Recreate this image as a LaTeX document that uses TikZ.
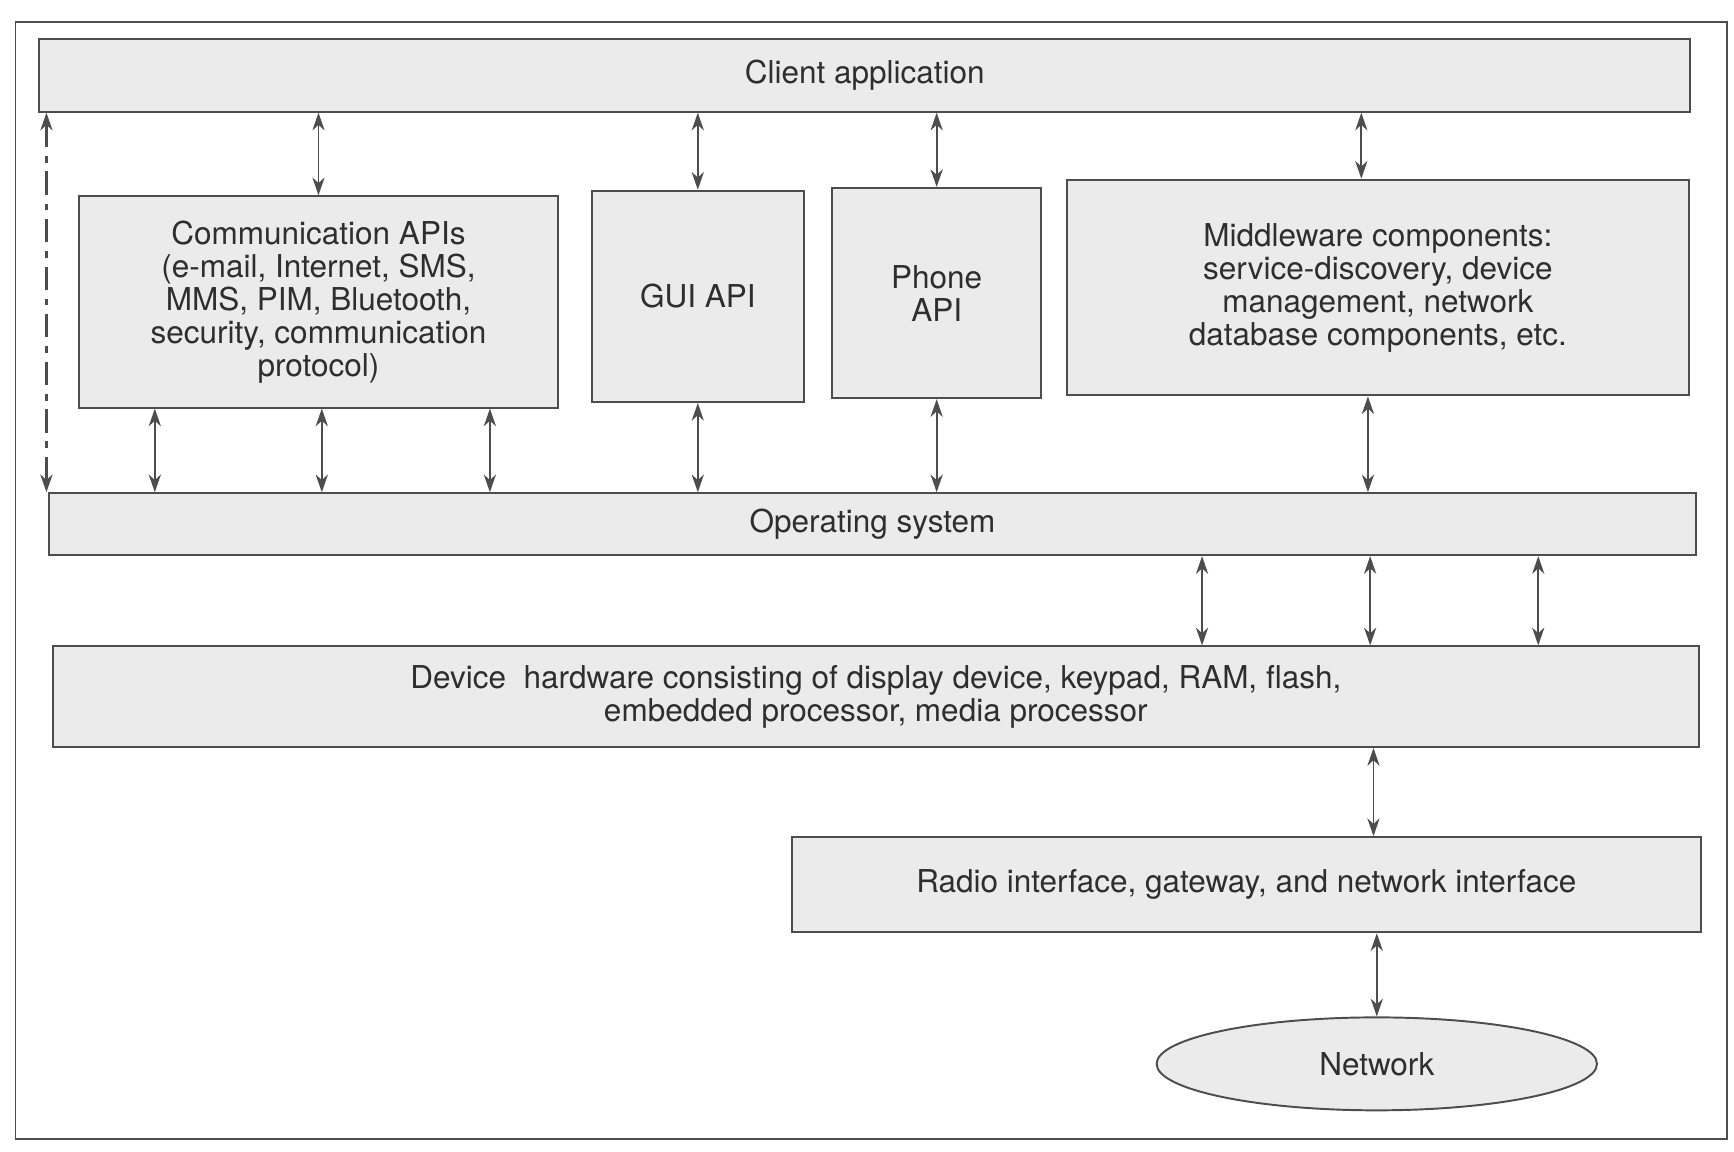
\documentclass[tikz,border=0pt]{standalone}
\usepackage{fontspec}
\setmainfont{TeX Gyre Heros}
\usetikzlibrary{arrows.meta,shapes.geometric}

\definecolor{boxgray}{HTML}{EBEBEB}
\definecolor{linegray}{HTML}{4D4D4D}
\definecolor{textgray}{HTML}{2E2E2E}

\tikzset{
  layer/.style={draw=linegray, fill=boxgray, line width=0.5pt, inner sep=0pt,
    text=textgray, align=center, font=\fontsize{8.1}{8.5}\selectfont},
  tip/.style={Stealth[length=1.6mm, width=1.1mm, inset=0.5mm]},
  link/.style={{Stealth[length=1.6mm, width=1.1mm, inset=0.5mm]}-{Stealth[length=1.6mm, width=1.1mm, inset=0.5mm]},
    draw=linegray, line width=0.45pt},
  dashdot/.style={dash pattern=on 2.1mm off 0.8mm on 0.6mm off 0.8mm, line width=0.6pt},
}

\begin{document}
\begin{tikzpicture}[x=0.01cm, y=-0.01cm]
  \useasboundingbox (0,0) rectangle (1568,1041);
  \draw[linegray, line width=0.5pt] (14,20) rectangle (1562,1030);

  % software stack
  \node[layer, minimum width=14.92cm, minimum height=0.66cm] (client) at (782,68) {Client application};
  \node[layer, minimum width=4.33cm, minimum height=1.91cm] (comm) at (288,273)
    {Communication APIs\\(e-mail, Internet, SMS,\\MMS, PIM, Bluetooth,\\security, communication\\protocol)};
  \node[layer, minimum width=1.92cm, minimum height=1.91cm] (gui) at (631,268) {GUI API};
  \node[layer, minimum width=1.89cm, minimum height=1.90cm] (phone) at (847,265) {Phone\\API};
  \node[layer, minimum width=5.62cm, minimum height=1.95cm] (mid) at (1246,260)
    {Middleware components:\\service-discovery, device\\management, network\\database components, etc.};
  \node[layer, minimum width=14.88cm, minimum height=0.56cm] (os) at (789,474) {Operating system};

  % hardware and network side
  \node[layer, minimum width=14.88cm, minimum height=0.91cm] (device) at (792,630)
    {Device\ \ hardware consisting of display device, keypad, RAM, flash,\\embedded processor, media processor};
  \node[layer, minimum width=8.22cm, minimum height=0.86cm] (radio) at (1127,800)
    {Radio interface, gateway, and network interface};
  \node[layer, ellipse, minimum width=3.98cm, minimum height=0.84cm] (network) at (1245,962) {Network};

  % connectors
  \draw[link] (client.south -| comm) -- (comm.north);
  \draw[link] (client.south -| gui) -- (gui.north);
  \draw[link] (client.south -| phone) -- (phone.north);
  \draw[link] (client.south -| 1231,0) -- (mid.north -| 1231,0);
  \draw[link, dashdot] (client.south -| 42,0) -- (os.north -| 42,0);
  \foreach \x in {140,291,443}
    \draw[link] (comm.south -| \x,0) -- (os.north -| \x,0);
  \draw[link] (gui.south) -- (os.north -| gui);
  \draw[link] (phone.south) -- (os.north -| phone);
  \draw[link] (mid.south -| 1237,0) -- (os.north -| 1237,0);
  \foreach \x in {1087,1239,1391}
    \draw[link] (os.south -| \x,0) -- (device.north -| \x,0);
  \draw[link] (device.south -| 1242,0) -- (radio.north -| 1242,0);
  \draw[link] (radio.south -| network) -- (network.north);
\end{tikzpicture}
\end{document}
